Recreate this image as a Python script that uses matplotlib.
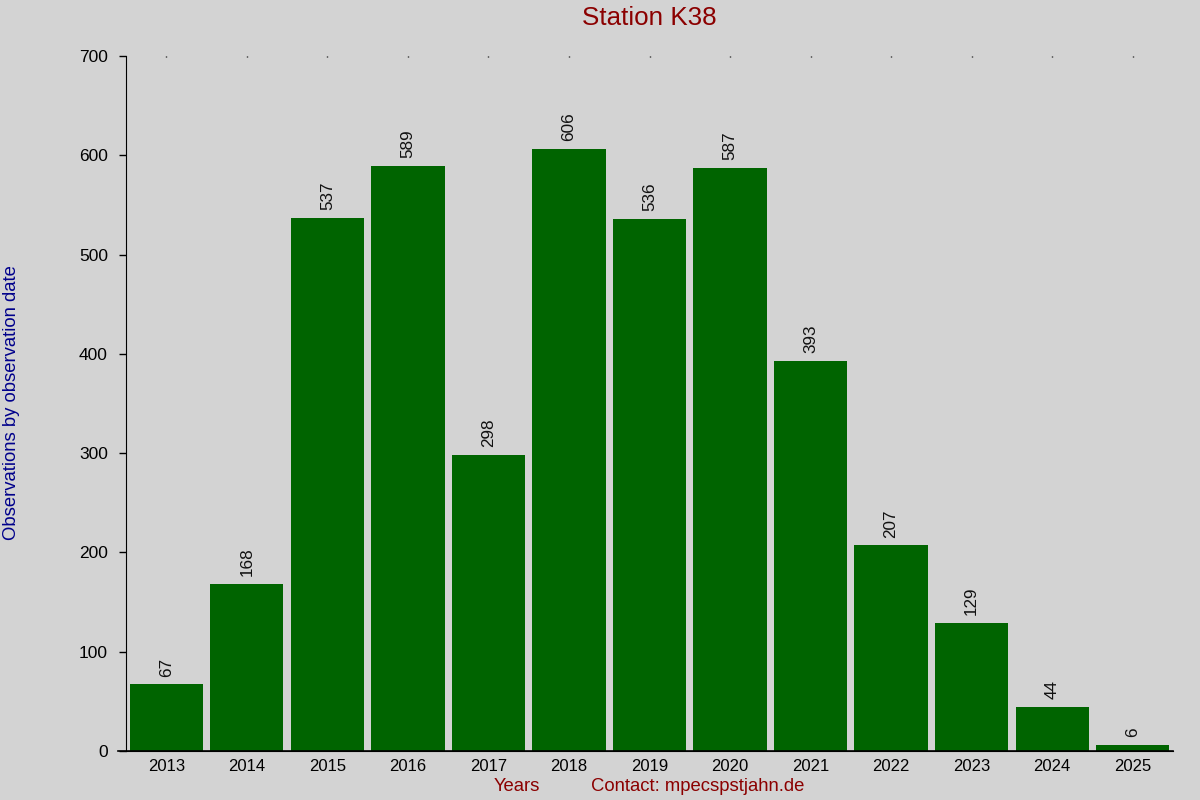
import matplotlib
matplotlib.use("Agg")
import matplotlib.pyplot as plt

years = ["2013", "2014", "2015", "2016", "2017", "2018", "2019", "2020", "2021", "2022", "2023", "2024", "2025"]
values = [67, 168, 537, 589, 298, 606, 536, 587, 393, 207, 129, 44, 6]
yticks = [0, 100, 200, 300, 400, 500, 600, 700]

plt.rcParams['font.family'] = ['Liberation Sans', 'DejaVu Sans']
bg = '#d3d3d3'
fig = plt.figure(figsize=(12, 8), dpi=100, facecolor=bg)
ax = fig.add_axes([0.105, 0.06125, 0.8725, 0.86875], facecolor=bg)

x = list(range(len(years)))
ax.bar(x, values, width=0.91, color='#006400')
for xi, v in zip(x, values):
    ax.text(xi, v + 8, str(v), rotation=90, ha='center', va='bottom', fontsize=12.3, color='#111111')

ax.set_xlim(-0.5, len(years) - 0.5)
ax.set_ylim(0, 700)
ax.set_yticks(yticks)
ax.set_yticklabels([str(t) for t in yticks])
ax.set_xticks(x)
ax.set_xticklabels(years)
ax.tick_params(axis='y', length=5, width=1, direction='out', pad=8, labelsize=12.5)
ax.tick_params(axis='x', top=True, bottom=False, labelbottom=True, labeltop=False,
               length=1, width=1, direction='in', pad=6, labelsize=12)

ax.spines['top'].set_visible(False)
ax.spines['right'].set_visible(False)

# extended baseline
ax.plot([-0.6, len(years) - 0.5], [0, 0], color='black', lw=1.2, clip_on=False)

fig.text(0.541, 0.978, "Station K38", ha='center', va='center', fontsize=18.7, color='#8b0000')
fig.text(0.01, 0.497, "Observations by observation date", rotation=90, ha='center', va='center', fontsize=13.3, color='#00008b')
fig.text(0.431, 0.017, "Years", ha='center', va='center', fontsize=13.3, color='#8b0000')
fig.text(0.5815, 0.017, "Contact: mpecspstjahn.de", ha='center', va='center', fontsize=13.3, color='#8b0000')

fig.savefig("out.png", dpi=100, facecolor=bg)
